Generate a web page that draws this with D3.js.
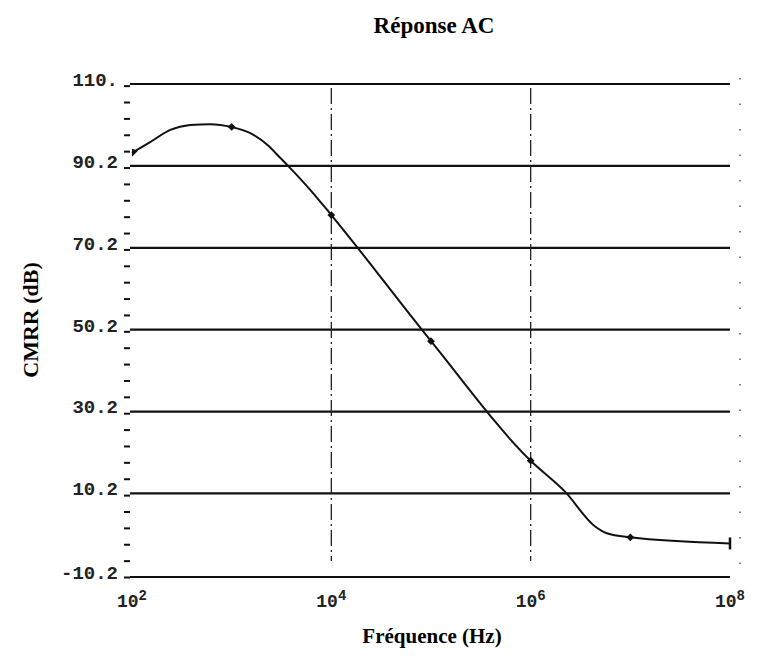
<!DOCTYPE html>
<html>
<head>
<meta charset="utf-8">
<script src="https://cdn.jsdelivr.net/npm/d3@7"></script>
<style>
  body { margin: 0; background: #fff; }
  svg { display: block; }
</style>
</head>
<body>
<div id="chart"></div>
<script>
// values
var freq = [1e2, 1.52e2, 2.42e2, 3.84e2, 6.1e2, 1e3, 1.54e3, 2.29e3, 3.09e3, 3.89e3, 6.17e3, 1e4, 1e5, 1e6, 2.2e6, 4.4e6, 5.8e6, 1e7, 1e8];
var cmrr = [93.4, 96.0, 99.0, 100.2, 100.4, 99.7, 98.2, 95.3, 92.1, 89.6, 84.3, 78.2, 47.4, 18.2, 10.7, 2.2, 0.5, -0.5, -2.0];
var markerFreq = [1e3, 1e4, 1e5, 1e6, 1e7];
var yTicks = [-10.2, 10.2, 30.2, 50.2, 70.2, 90.2, 110.2];
var yTickLabels = ["-10.2", "10.2", "30.2", "50.2", "70.2", "90.2", "110."];
var xTicks = [1e2, 1e4, 1e6, 1e8];
var xTickExp = ["2", "4", "6", "8"];
var vGrid = [1e4, 1e6];

var W = 758, H = 661;
var margin = {top: 84, right: 28, bottom: 84, left: 132},
    width = W - margin.left - margin.right,
    height = H - margin.top - margin.bottom;

var svg = d3.select("#chart").append("svg")
    .attr("width", W)
    .attr("height", H);

var g = svg.append("g")
    .attr("transform", "translate(" + margin.left + "," + margin.top + ")");

var x = d3.scaleLog().domain([1e2, 1e8]).range([0, width]);
var y = d3.scaleLinear().domain([-10.2, 110.2]).range([height, 0]);

// minor ticks every 4 dB on the left
var minor = d3.range(-10.2, 110.3, 4).map(function(d){ return +d.toFixed(1); });
g.append("g")
    .attr("transform", "translate(-2,0)")
    .call(d3.axisLeft(y).tickValues(minor).tickSize(6).tickFormat(""))
    .call(function(s){
      s.select(".domain").remove();
      s.selectAll("line").attr("stroke", "#111").attr("stroke-width", 2);
    });

// horizontal grid (solid, heavy)
g.append("g")
  .selectAll("line")
  .data(yTicks)
  .join("line")
    .attr("x1", -2)
    .attr("x2", width)
    .attr("y1", function(d){ return y(d); })
    .attr("y2", function(d){ return y(d); })
    .attr("stroke", "#111")
    .attr("stroke-width", 2.2);

// y tick labels
g.append("g")
  .selectAll("text")
  .data(yTicks)
  .join("text")
    .attr("x", -14)
    .attr("y", function(d){ return y(d); })
    .attr("dy", "0.1em")
    .attr("text-anchor", "end")
    .style("font-family", "'Liberation Mono', 'DejaVu Sans Mono', monospace")
    .style("font-size", "19px")
    .style("font-weight", "bold")
    .attr("fill", "#222")
    .text(function(d,i){ return yTickLabels[i]; });

// vertical dash-dot grid
g.append("g")
  .selectAll("line")
  .data(vGrid)
  .join("line")
    .attr("x1", function(d){ return x(d); })
    .attr("x2", function(d){ return x(d); })
    .attr("y1", y(110.2) + 4)
    .attr("y2", height - 16)
    .attr("stroke", "#222")
    .attr("stroke-width", 1.3)
    .attr("stroke-dasharray", "16,4,2,4");

// faint dotted right edge
g.append("line")
    .attr("x1", width + 10).attr("x2", width + 10)
    .attr("y1", -6).attr("y2", height)
    .attr("stroke", "#555")
    .attr("stroke-width", 1.5)
    .attr("stroke-dasharray", "1.5,24");

// x tick labels: 10^n
var xl = g.append("g")
  .selectAll("text")
  .data(xTicks)
  .join("text")
    .attr("x", function(d){ return x(d); })
    .attr("y", height + 30)
    .attr("text-anchor", "middle")
    .style("font-family", "'Liberation Mono', 'DejaVu Sans Mono', monospace")
    .style("font-size", "18px")
    .style("font-weight", "bold")
    .attr("fill", "#222");
xl.append("tspan").text("10");
xl.append("tspan")
    .attr("dy", "-0.5em")
    .style("font-size", "14px")
    .text(function(d,i){ return xTickExp[i]; });

// response curve
var line = d3.line()
    .x(function(d){ return x(d[0]); })
    .y(function(d){ return y(d[1]); })
    .curve(d3.curveMonotoneX);

var pts = freq.map(function(f,i){ return [f, cmrr[i]]; });

g.append("path")
    .datum(pts)
    .attr("fill", "none")
    .attr("stroke", "#111")
    .attr("stroke-width", 2)
    .attr("d", line);

// markers at the decades
var val = {};
freq.forEach(function(f,i){ val[f] = cmrr[i]; });

g.append("g")
  .selectAll("path")
  .data(markerFreq)
  .join("path")
    .attr("transform", function(d){ return "translate(" + x(d) + "," + y(val[d]) + ") rotate(45)"; })
    .attr("d", d3.symbol().type(d3.symbolSquare).size(30))
    .attr("fill", "#111");

// start wedge and end cap
g.append("path")
    .attr("transform", "translate(" + x(1e2) + "," + y(val[1e2]) + ")")
    .attr("d", "M0,-4 L6,-2 L0,4 Z")
    .attr("fill", "#111");
g.append("line")
    .attr("x1", x(1e8)).attr("x2", x(1e8))
    .attr("y1", y(val[1e8]) - 6).attr("y2", y(val[1e8]) + 6)
    .attr("stroke", "#111").attr("stroke-width", 2.5);

// titles
svg.append("text")
    .attr("x", 434)
    .attr("y", 33)
    .attr("text-anchor", "middle")
    .style("font-family", "'Liberation Serif', 'DejaVu Serif', serif")
    .style("font-size", "23px")
    .style("font-weight", "bold")
    .text("Réponse AC");

svg.append("text")
    .attr("x", 432)
    .attr("y", 643)
    .attr("text-anchor", "middle")
    .style("font-family", "'Liberation Serif', 'DejaVu Serif', serif")
    .style("font-size", "21px")
    .style("font-weight", "bold")
    .text("Fréquence (Hz)");

svg.append("text")
    .attr("transform", "translate(38,320) rotate(-90)")
    .attr("text-anchor", "middle")
    .style("font-family", "'Liberation Serif', 'DejaVu Serif', serif")
    .style("font-size", "22px")
    .style("font-weight", "bold")
    .text("CMRR (dB)");
</script>
</body>
</html>
